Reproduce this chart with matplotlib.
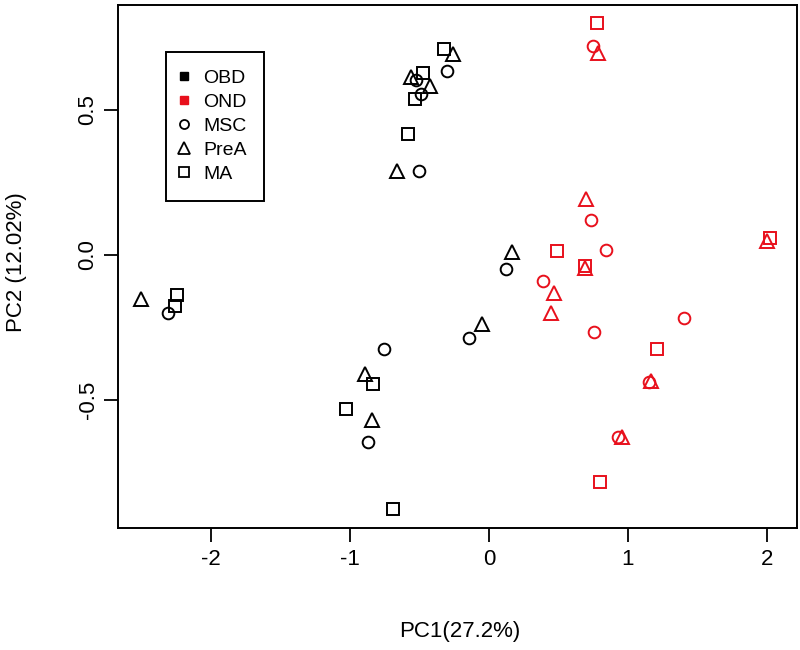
import matplotlib
matplotlib.use("Agg")
import matplotlib.pyplot as plt
from matplotlib.lines import Line2D

plt.rcParams['font.family'] = ['Liberation Sans', 'DejaVu Sans']

# OBD (black)
obd_msc_x = [-0.302, -0.527, -0.489, -0.506, -2.307, -0.758, -0.868, 0.125, -0.146]
obd_msc_y = [0.634, 0.603, 0.555, 0.291, -0.199, -0.324, -0.643, -0.048, -0.285]
obd_prea_x = [-0.257, -0.561, -0.422, -0.660, -2.501, -0.894, -0.844, 0.163, -0.048]
obd_prea_y = [0.693, 0.615, 0.583, 0.291, -0.152, -0.410, -0.569, 0.011, -0.238]
obd_ma_x = [-0.326, -0.477, -0.530, -0.583, -2.242, -2.261, -0.832, -1.031, -0.688]
obd_ma_y = [0.710, 0.626, 0.539, 0.416, -0.138, -0.176, -0.445, -0.530, -0.875]

# OND (red)
ond_msc_x = [0.746, 0.734, 0.844, 0.391, 0.758, 1.401, 1.153, 0.926]
ond_msc_y = [0.721, 0.122, 0.017, -0.089, -0.264, -0.216, -0.437, -0.629]
ond_prea_x = [0.782, 0.698, 0.693, 0.468, 0.444, 2.002, 1.164, 0.954]
ond_prea_y = [0.695, 0.193, -0.046, -0.132, -0.199, 0.048, -0.433, -0.629]
ond_ma_x = [0.777, 0.489, 0.693, 2.022, 1.211, 0.796]
ond_ma_y = [0.800, 0.014, -0.038, 0.060, -0.324, -0.783]

legend_labels = ["OBD", "OND", "MSC", "PreA", "MA"]
x_label = "PC1(27.2%)"
y_label = "PC2 (12.02%)"
x_ticks = [-2, -1, 0, 1, 2]
y_ticks = [-0.5, 0.0, 0.5]

RED = '#E8101C'
FS = 16
fig = plt.figure(figsize=(8, 6.5), dpi=100)
ax = fig.add_axes([118/800, (650-528)/650, (797-118)/800, (528-5)/650])

mk = dict(o=dict(marker='o', ms=8.4), t=dict(marker='^', ms=9.6), s=dict(marker='s', ms=8.2))
def pts(x, y, kind, col):
    ax.plot(x, y, linestyle='none', mfc='none', mec=col, mew=1.4, **mk[kind])

pts(obd_msc_x, obd_msc_y, 'o', 'black')
pts(obd_prea_x, obd_prea_y, 't', 'black')
pts(obd_ma_x, obd_ma_y, 's', 'black')
pts(ond_msc_x, ond_msc_y, 'o', RED)
pts(ond_prea_x, ond_prea_y, 't', RED)
pts(ond_ma_x, ond_ma_y, 's', RED)

ax.set_xlim(-2.669, 2.216)
ax.set_ylim(-0.941, 0.862)
ax.set_xticks(x_ticks)
ax.set_xticklabels([str(v) for v in x_ticks])
ax.set_yticks(y_ticks)
ax.set_yticklabels(["-0.5", "0.0", "0.5"], rotation=90, va='center')
ax.tick_params(direction='out', length=10, width=1.3, labelsize=FS)
ax.tick_params(axis='x', pad=5)
ax.tick_params(axis='y', pad=4)
for sp in ax.spines.values():
    sp.set_linewidth(1.4)

fig.text(460/800, 1-632/650, x_label, ha='center', va='center', fontsize=FS)
fig.text(17/800, 1-262/650, y_label, ha='center', va='center', rotation=90, fontsize=FS)

handles = [
    Line2D([], [], linestyle='none', marker='s', ms=5.5, mfc='black', mec='black'),
    Line2D([], [], linestyle='none', marker='s', ms=5.5, mfc=RED, mec=RED),
    Line2D([], [], linestyle='none', marker='o', mfc='none', mec='black', ms=6.5, mew=1.3),
    Line2D([], [], linestyle='none', marker='^', mfc='none', mec='black', ms=8, mew=1.3),
    Line2D([], [], linestyle='none', marker='s', mfc='none', mec='black', ms=6.5, mew=1.3),
]
leg = ax.legend(handles, legend_labels, loc='upper left', bbox_to_anchor=(0.0707, 0.910),
                frameon=True, fancybox=False, edgecolor='black', framealpha=1,
                fontsize=14, handlelength=0.1, handletextpad=0.9, labelspacing=0.33,
                borderpad=0.9, borderaxespad=0)
leg.get_frame().set_linewidth(1.4)

fig.savefig("out.png", dpi=100)
